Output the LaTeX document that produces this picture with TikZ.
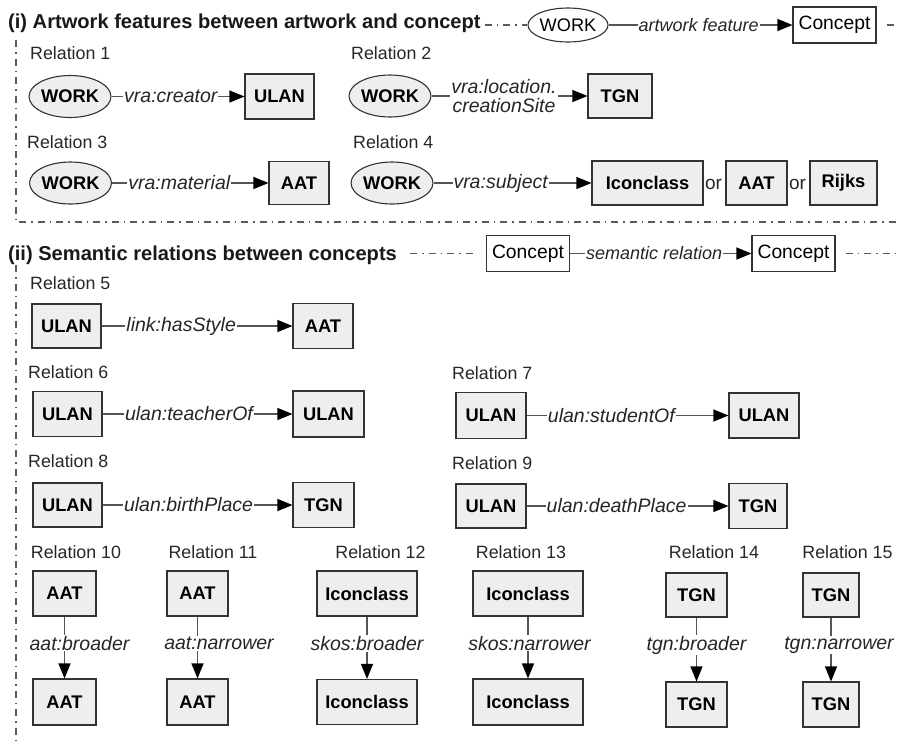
\documentclass[tikz,border=0pt]{standalone}
\usepackage{fontspec}
\setmainfont{Liberation Sans}
\usetikzlibrary{arrows.meta,shapes.geometric}
\definecolor{boxfill}{HTML}{EEEEEE}
\definecolor{bordercol}{HTML}{333333}
\definecolor{linecol}{HTML}{555555}
\definecolor{framecol}{HTML}{5A5A5A}
\begin{document}
\begin{tikzpicture}[x=1pt,y=-1pt,
  cbox/.style={draw=bordercol, fill=boxfill, line width=1.1pt, inner sep=0pt,
    font=\fontsize{18.3}{20}\selectfont\bfseries, text=black},
  work/.style={ellipse, cbox, minimum width=80pt, minimum height=42pt},
  legbox/.style={draw=bordercol, fill=white, line width=1.1pt, inner sep=0pt,
    minimum width=83pt, minimum height=36pt, font=\fontsize{19.3}{21}\selectfont},
  legwork/.style={ellipse, draw=bordercol, fill=white, line width=1.1pt, inner sep=0pt,
    minimum width=78pt, minimum height=34pt, font=\fontsize{18.2}{20}\selectfont},
  rtitle/.style={font=\fontsize{17.8}{20}\selectfont, inner sep=0pt, text=black!85},
  hdr/.style={font=\fontsize{20.1}{22}\selectfont\bfseries, inner sep=0pt, anchor=west, text=black!90},
  conn/.style={draw=linecol, line width=1.1pt, -{Triangle[length=15pt,width=12pt,color=black]}},
  lab/.style={font=\fontsize{19.5}{19}\selectfont\itshape, fill=white, inner sep=1pt, text=black!85, align=center},
  leglab/.style={lab, font=\fontsize{18}{20}\selectfont\itshape},
  dashdot/.style={draw=framecol, line width=1.2pt, dash pattern=on 7pt off 5pt on 1.5pt off 5pt},
  ortext/.style={font=\fontsize{19}{20}\selectfont, inner sep=0pt, text=black!85}
]
\useasboundingbox (0,0) rectangle (899,740);

% ---------- Section (i) header and legend
\node[hdr] (h1) at (8,23) {(i) Artwork features between artwork and concept};
\node[legwork] (lw) at (568,25) {WORK};
\node[legbox] (lc1) at (834.5,25) {Concept};
\draw[conn] (lw) -- node[leglab,pos=0.49]{artwork feature} (lc1);
\coordinate (h1e) at (899,25);
\draw[dashdot, shorten <=4pt] (h1.east |- lw.west) -- (lw.west);
\draw[dashdot, shorten <=10pt] (lc1.east) -- (h1e);

% frame (i)
\coordinate (f1a) at (16,40);
\coordinate (f1b) at (16,222);
\coordinate (f1c) at (899,222);
\draw[dashdot] (f1a) -- (f1b) -- (f1c);

% Relation 1
\node[rtitle,anchor=west] (t1) at (30,53) {Relation 1};
\node[work] (w1) at (70,96.5) {WORK};
\node[cbox,minimum width=69pt,minimum height=45pt] (b1) at (279.5,96.5) {ULAN};
\draw[conn] (w1) -- node[lab,pos=0.446]{vra:creator} (b1);

% Relation 2
\node[rtitle,anchor=west] (t2) at (351,53) {Relation 2};
\node[work] (w2) at (390,96) {WORK};
\node[cbox,minimum width=64pt,minimum height=44pt] (b2) at (620,96) {TGN};
\draw[conn] (w2) -- node[lab,pos=0.465]{vra:location.\\creationSite} (b2);

% Relation 3
\node[rtitle,anchor=west] (t3) at (27,142) {Relation 3};
\node[work] (w3) at (70.5,183) {WORK};
\node[cbox,minimum width=60pt,minimum height=43pt] (b3) at (299,183) {AAT};
\draw[conn] (w3) -- node[lab,pos=0.43]{vra:material} (b3);

% Relation 4
\node[rtitle,anchor=west] (t4) at (353,142) {Relation 4};
\node[work] (w4) at (392,183) {WORK};
\node[cbox,minimum width=111pt,minimum height=44pt] (b4a) at (647.5,183) {Iconclass};
\node[ortext] (o1) at (713.5,184) {or};
\node[cbox,minimum width=61pt,minimum height=44pt] (b4b) at (756.5,183) {AAT};
\node[ortext] (o2) at (797.5,184) {or};
\node[cbox,minimum width=67pt,minimum height=44pt] (b4c) at (843.5,183) {Rijks};
\draw[conn] (w4) -- node[lab,pos=0.425]{vra:subject} (b4a);

% ---------- Section (ii) header and legend
\node[hdr] (h2) at (8,255) {(ii) Semantic relations between concepts};
\node[legbox] (lc2) at (528,253.5) {Concept};
\node[legbox] (lc3) at (793.5,253.5) {Concept};
\draw[conn] (lc2) -- node[leglab,pos=0.464]{semantic relation} (lc3);
\coordinate (h2e) at (899,253.5);
\draw[dashdot, shorten <=13pt, shorten >=12pt] (h2.east |- lc2.west) -- (lc2.west);
\draw[dashdot, shorten <=10pt] (lc3.east) -- (h2e);

% frame (ii)
\coordinate (f2a) at (16,265);
\coordinate (f2b) at (16,740);
\draw[dashdot] (f2a) -- (f2b);

% Relation 5
\node[rtitle,anchor=west] (t5) at (30,283) {Relation 5};
\node[cbox,minimum width=69pt,minimum height=44pt] (b5a) at (66.5,326) {ULAN};
\node[cbox,minimum width=60pt,minimum height=45pt] (b5b) at (323,326) {AAT};
\draw[conn] (b5a) -- node[lab,pos=0.417]{link:hasStyle} (b5b);

% Relation 6
\node[rtitle,anchor=west] (t6) at (28,372) {Relation 6};
\node[cbox,minimum width=69pt,minimum height=45pt] (b6a) at (67.5,414) {ULAN};
\node[cbox,minimum width=71pt,minimum height=46pt] (b6b) at (328.5,414) {ULAN};
\draw[conn] (b6a) -- node[lab,pos=0.455]{ulan:teacherOf} (b6b);

% Relation 7
\node[rtitle,anchor=west] (t7) at (452,373) {Relation 7};
\node[cbox,minimum width=70pt,minimum height=46pt] (b7a) at (491,415.5) {ULAN};
\node[cbox,minimum width=70pt,minimum height=45pt] (b7b) at (764,415.5) {ULAN};
\draw[conn] (b7a) -- node[lab,pos=0.42]{ulan:studentOf} (b7b);

% Relation 8
\node[rtitle,anchor=west] (t8) at (28,461) {Relation 8};
\node[cbox,minimum width=69pt,minimum height=44pt] (b8a) at (67.5,505) {ULAN};
\node[cbox,minimum width=61pt,minimum height=45pt] (b8b) at (323.5,505) {TGN};
\draw[conn] (b8a) -- node[lab,pos=0.453]{ulan:birthPlace} (b8b);

% Relation 9
\node[rtitle,anchor=west] (t9) at (452,463) {Relation 9};
\node[cbox,minimum width=70pt,minimum height=44pt] (b9a) at (491,506) {ULAN};
\node[cbox,minimum width=58pt,minimum height=45pt] (b9b) at (758,506) {TGN};
\draw[conn] (b9a) -- node[lab,pos=0.446]{ulan:deathPlace} (b9b);

% Relation 10
\node[rtitle] (t10) at (76,552) {Relation 10};
\node[cbox,minimum width=63pt,minimum height=45pt] (b10a) at (64.5,593.5) {AAT};
\node[cbox,minimum width=63pt,minimum height=46pt] (b10b) at (64.5,702) {AAT};
\draw[conn] (b10a) -- node[lab,pos=0.43,xshift=15pt]{aat:broader} (b10b);

% Relation 11
\node[rtitle] (t11) at (213,552) {Relation 11};
\node[cbox,minimum width=61pt,minimum height=45pt] (b11a) at (197.5,593.5) {AAT};
\node[cbox,minimum width=61pt,minimum height=46pt] (b11b) at (197.5,702) {AAT};
\draw[conn] (b11a) -- node[lab,pos=0.43,xshift=21.5pt]{aat:narrower} (b11b);

% Relation 12
\node[rtitle] (t12) at (380.5,552) {Relation 12};
\node[cbox,minimum width=100pt,minimum height=45pt] (b12a) at (367,593.5) {Iconclass};
\node[cbox,minimum width=100pt,minimum height=45pt] (b12b) at (367,702) {Iconclass};
\draw[conn] (b12a) -- node[lab,pos=0.43]{skos:broader} (b12b);

% Relation 13
\node[rtitle] (t13) at (521,552) {Relation 13};
\node[cbox,minimum width=110pt,minimum height=45pt] (b13a) at (528,593.5) {Iconclass};
\node[cbox,minimum width=110pt,minimum height=46pt] (b13b) at (528,702) {Iconclass};
\draw[conn] (b13a) -- node[lab,pos=0.43,xshift=1.5pt]{skos:narrower} (b13b);

% Relation 14
\node[rtitle] (t14) at (714,552) {Relation 14};
\node[cbox,minimum width=61pt,minimum height=44pt] (b14a) at (696.5,595) {TGN};
\node[cbox,minimum width=61pt,minimum height=45pt] (b14b) at (696.5,704.5) {TGN};
\draw[conn] (b14a) -- node[lab,pos=0.43]{tgn:broader} (b14b);

% Relation 15
\node[rtitle] (t15) at (847.5,552) {Relation 15};
\node[cbox,minimum width=56pt,minimum height=44pt] (b15a) at (831,595) {TGN};
\node[cbox,minimum width=56pt,minimum height=45pt] (b15b) at (831,704.5) {TGN};
\draw[conn] (b15a) -- node[lab,pos=0.43,xshift=8pt]{tgn:narrower} (b15b);
\end{tikzpicture}
\end{document}
